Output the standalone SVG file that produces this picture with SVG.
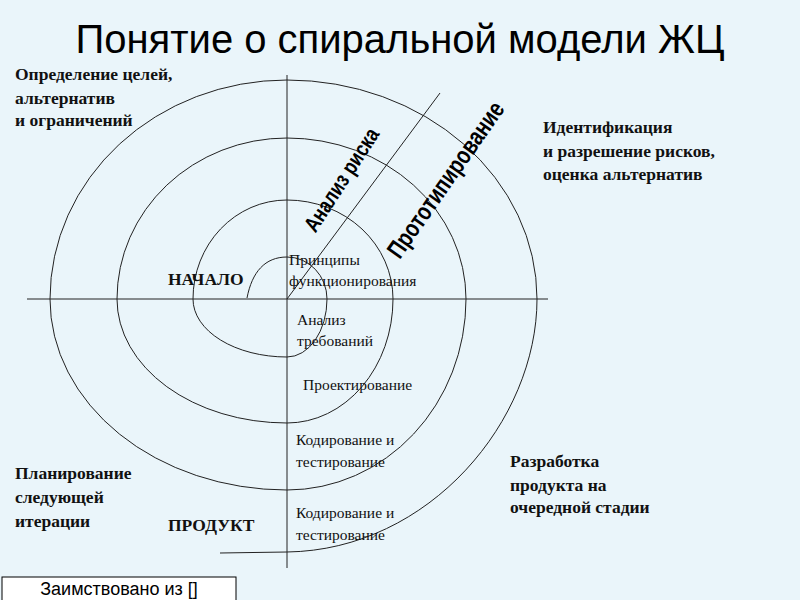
<svg xmlns="http://www.w3.org/2000/svg" width="800" height="600" viewBox="0 0 800 600">
<style>
.s{font-family:"Liberation Serif","Times New Roman",serif;font-size:15.5px;fill:#111}
.b{font-family:"Liberation Serif","Times New Roman",serif;font-size:17.5px;font-weight:700;fill:#111}
.a{font-family:"Liberation Sans",Arial,sans-serif;fill:#000}
.l{fill:none;stroke:#222;stroke-width:1}
</style>
<rect width="800" height="600" fill="#eaf5fa"/>
<text class="a" x="400" y="53" font-size="40" text-anchor="middle">Понятие о спиральной модели ЖЦ</text>
<g id="connectors">
<line class="l" x1="27" y1="299" x2="548" y2="299"/>
<line class="l" x1="287" y1="75" x2="287" y2="568"/>
<line class="l" x1="287" y1="299" x2="440" y2="93"/>
<path class="l" d="M 247 298 C 252 272 265 257 287 257 A 40 42 0 0 1 327 299 A 40 58 0 0 1 287 357 A 94 58 0 0 1 193 299 A 94 99 0 0 1 287 200 A 106 99 0 0 1 393 299 A 106 124 0 0 1 287 423 A 170 124 0 0 1 117 299 A 170 161 0 0 1 287 138 A 179 161 0 0 1 466 299 A 179 191 0 0 1 287 490 A 237 191 0 0 1 50 299 A 237 219 0 0 1 287 80 A 250 219 0 0 1 537 299 C 537 420 430 550 287 552 L 220 553"/>
</g>
<g id="risk"><text class="a" font-size="22" font-weight="bold" transform="translate(342,180) rotate(-57) scale(0.8,1)" text-anchor="middle" dy="7">Анализ риска</text></g>
<g id="proto"><text class="a" font-size="25" font-weight="bold" transform="translate(446,180) rotate(-55) scale(0.78,1)" text-anchor="middle" dy="8">Прототипирование</text></g>
<g id="goals"><text class="b" x="15" y="80">Определение целей,</text><text class="b" x="15" y="104">альтернатив</text><text class="b" x="15" y="126">и ограничений</text></g>
<g id="ident"><text class="b" x="543" y="133">Идентификация</text><text class="b" x="543" y="157">и разрешение рисков,</text><text class="b" x="543" y="180">оценка альтернатив</text></g>
<g id="plan"><text class="b" x="15" y="479">Планирование</text><text class="b" x="15" y="503">следующей</text><text class="b" x="15" y="527">итерации</text></g>
<g id="dev"><text class="b" x="510" y="467">Разработка</text><text class="b" x="510" y="491">продукта на</text><text class="b" x="510" y="513">очередной стадии</text></g>
<g id="start"><text class="b" x="168" y="285" font-size="15">НАЧАЛО</text></g>
<g id="product"><text class="b" x="168" y="531" font-size="15">ПРОДУКТ</text></g>
<g id="princ"><text class="s" x="289" y="265">Принципы</text><text class="s" x="289" y="286">функционирования</text></g>
<g id="req"><text class="s" x="297" y="325">Анализ</text><text class="s" x="297" y="346">требований</text></g>
<g id="design"><text class="s" x="303" y="390">Проектирование</text></g>
<g id="code1"><text class="s" x="296" y="445">Кодирование и</text><text class="s" x="296" y="467">тестирование</text></g>
<g id="code2"><text class="s" x="296" y="518">Кодирование и</text><text class="s" x="296" y="540">тестирование</text></g>
<g id="src"><rect x="2" y="577" width="234" height="30" fill="#fff" stroke="#000"/><text class="a" x="119" y="595" font-size="18" text-anchor="middle">Заимствовано из []</text></g>
</svg>
